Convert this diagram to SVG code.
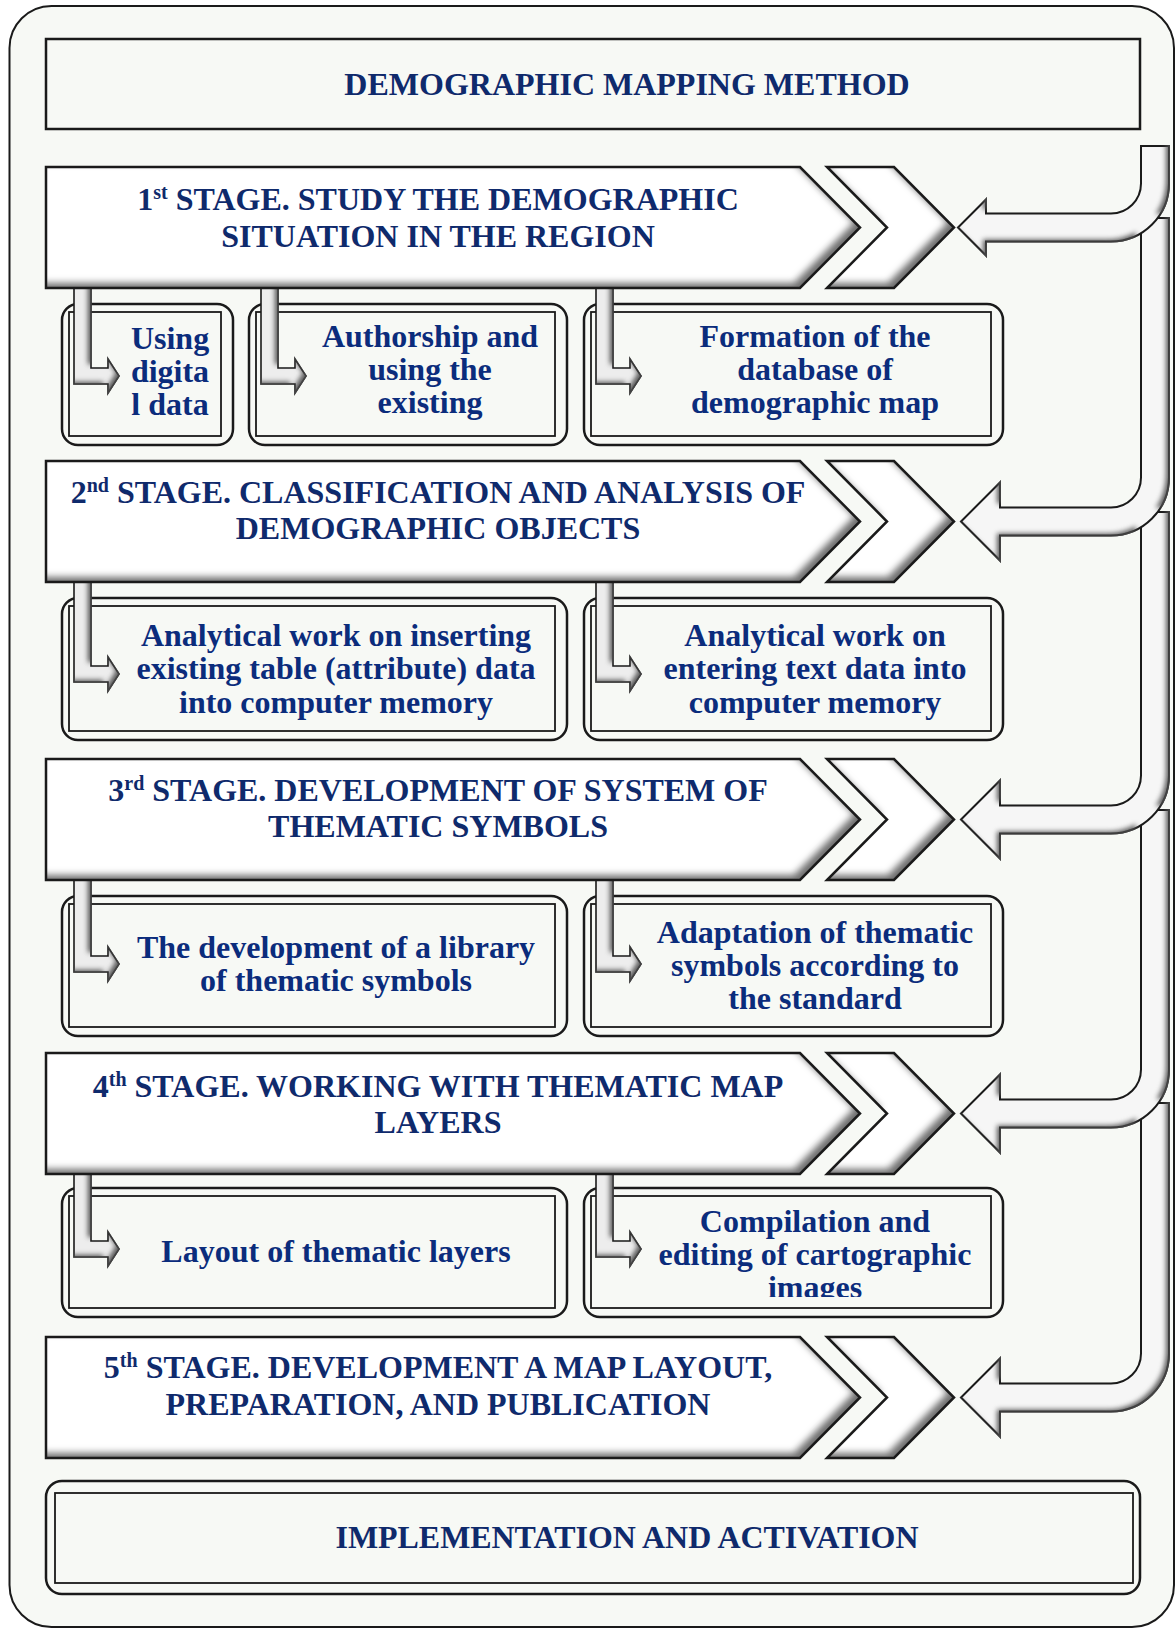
<svg xmlns="http://www.w3.org/2000/svg" width="1176" height="1629" viewBox="0 0 1176 1629">
<style>
.h{font-family:"Liberation Serif","Times New Roman",serif;font-weight:bold;font-size:32px;fill:#0f2a6c;text-anchor:middle}
.t{font-family:"Liberation Serif","Times New Roman",serif;font-weight:bold;font-size:32px;fill:#0b2c7c;text-anchor:middle}
.sup{font-size:20px}
.frame{fill:#f7f9f5;stroke:#1a1a1a;stroke-width:2}
.plain{fill:#f7f9f5;stroke:#1a1a1a;stroke-width:2.5}
.shape{fill:#ffffff}
.edge{fill:none;stroke:#1a1a1a;stroke-width:2.5;stroke-linejoin:miter}
.bo{fill:#f7f9f5;stroke:#1a1a1a;stroke-width:2.5}
.bi{fill:none;stroke:#1a1a1a;stroke-width:1.8}
.conn{fill:#ededed;stroke:#1a1a1a;stroke-width:1.6;stroke-linejoin:miter}
.ret{fill:#f6f6f6;stroke:#1a1a1a;stroke-width:2;stroke-linejoin:miter}
</style>
<defs>
<filter id="bev" x="-3%" y="-8%" width="106%" height="116%" color-interpolation-filters="sRGB">
<feGaussianBlur in="SourceAlpha" stdDeviation="3.5" result="b"/>
<feOffset in="b" dx="-6" dy="-5" result="o"/>
<feComposite in="SourceAlpha" in2="o" operator="out" result="e"/>
<feFlood flood-color="#555555" flood-opacity="0.85"/>
<feComposite in2="e" operator="in" result="s"/>
<feMerge><feMergeNode in="SourceGraphic"/><feMergeNode in="s"/></feMerge>
</filter>
<filter id="bev2" x="-10%" y="-10%" width="120%" height="120%" color-interpolation-filters="sRGB">
<feGaussianBlur in="SourceAlpha" stdDeviation="2.5" result="b"/>
<feOffset in="b" dx="-4" dy="-3" result="o"/>
<feComposite in="SourceAlpha" in2="o" operator="out" result="e"/>
<feFlood flood-color="#4a4a4a" flood-opacity="0.9"/>
<feComposite in2="e" operator="in" result="s"/>
<feMerge><feMergeNode in="SourceGraphic"/><feMergeNode in="s"/></feMerge>
</filter>
<clipPath id="clipImg"><rect x="584" y="1188" width="419" height="109"/></clipPath>
</defs>

<rect width="1176" height="1629" fill="#ffffff"/>
<rect class="frame" x="9.5" y="6" width="1164.5" height="1621" rx="42"/>

<g id="title">
<rect class="plain" x="46" y="39" width="1094" height="90"/>
<text class="h" x="627" y="95">DEMOGRAPHIC MAPPING METHOD</text>
</g>

<!-- sub-boxes -->
<g id="box-1a"><rect class="bo" x="62" y="304" width="171" height="141" rx="16"/><rect class="bi" x="69" y="312" width="152" height="124"/>
<text class="t" x="170" y="349">Using</text><text class="t" x="170" y="382">digita</text><text class="t" x="170" y="415">l data</text></g>
<g id="box-1b"><rect class="bo" x="249" y="304" width="318" height="141" rx="16"/><rect class="bi" x="256" y="312" width="299" height="124"/>
<text class="t" x="430" y="347">Authorship and</text><text class="t" x="430" y="380">using the</text><text class="t" x="430" y="413">existing</text></g>
<g id="box-1c"><rect class="bo" x="584" y="304" width="419" height="141" rx="16"/><rect class="bi" x="591" y="312" width="400" height="124"/>
<text class="t" x="815" y="347">Formation of the</text><text class="t" x="815" y="380">database of</text><text class="t" x="815" y="413">demographic map</text></g>

<g id="box-2a"><rect class="bo" x="62" y="598" width="505" height="142" rx="16"/><rect class="bi" x="69" y="606" width="486" height="125"/>
<text class="t" x="336" y="646">Analytical work on inserting</text><text class="t" x="336" y="679">existing table (attribute) data</text><text class="t" x="336" y="713">into computer memory</text></g>
<g id="box-2b"><rect class="bo" x="584" y="598" width="419" height="142" rx="16"/><rect class="bi" x="591" y="606" width="400" height="125"/>
<text class="t" x="815" y="646">Analytical work on</text><text class="t" x="815" y="679">entering text data into</text><text class="t" x="815" y="713">computer memory</text></g>

<g id="box-3a"><rect class="bo" x="62" y="896" width="505" height="140" rx="16"/><rect class="bi" x="69" y="904" width="486" height="123"/>
<text class="t" x="336" y="958">The development of a library</text><text class="t" x="336" y="991">of thematic symbols</text></g>
<g id="box-3b"><rect class="bo" x="584" y="896" width="419" height="140" rx="16"/><rect class="bi" x="591" y="904" width="400" height="123"/>
<text class="t" x="815" y="943">Adaptation of thematic</text><text class="t" x="815" y="976">symbols according to</text><text class="t" x="815" y="1009">the standard</text></g>

<g id="box-4a"><rect class="bo" x="62" y="1188" width="505" height="129" rx="16"/><rect class="bi" x="69" y="1196" width="486" height="112"/>
<text class="t" x="336" y="1262">Layout of thematic layers</text></g>
<g id="box-4b"><rect class="bo" x="584" y="1188" width="419" height="129" rx="16"/><rect class="bi" x="591" y="1196" width="400" height="112"/>
<text class="t" x="815" y="1232">Compilation and</text><text class="t" x="815" y="1265">editing of cartographic</text><text class="t" x="815" y="1298" clip-path="url(#clipImg)">images</text></g>

<g id="implementation">
<rect class="bo" x="46" y="1481" width="1094" height="113" rx="16"/>
<rect class="bi" x="55" y="1493" width="1078" height="90"/>
<text class="h" x="627" y="1548" textLength="583" lengthAdjust="spacingAndGlyphs">IMPLEMENTATION AND ACTIVATION</text>
</g>

<!-- connectors -->
<g id="connectors">
<g filter="url(#bev2)">
<path class="conn" d="M74,285 V384 H108 V393 L119,376 L108,359 V368 H91 V285 Z"/>
<path class="conn" d="M261,285 V384 H295 V393 L306,376 L295,359 V368 H278 V285 Z"/>
<path class="conn" d="M596,285 V384 H630 V393 L641,376 L630,359 V368 H613 V285 Z"/>
<path class="conn" d="M74,579 V682 H108 V691 L119,674 L108,657 V666 H91 V579 Z"/>
<path class="conn" d="M596,579 V682 H630 V691 L641,674 L630,657 V666 H613 V579 Z"/>
<path class="conn" d="M74,877 V972 H108 V981 L119,964 L108,947 V956 H91 V877 Z"/>
<path class="conn" d="M596,877 V972 H630 V981 L641,964 L630,947 V956 H613 V877 Z"/>
<path class="conn" d="M74,1171 V1257 H108 V1266 L119,1249 L108,1232 V1241 H91 V1171 Z"/>
<path class="conn" d="M596,1171 V1257 H630 V1266 L641,1249 L630,1232 V1241 H613 V1171 Z"/>
</g>
<g filter="url(#bev2)">
<path class="ret" d="M1141,1103 V1353.5 A30 30 0 0 1 1111,1383.5 H1000 V1358.5 L961,1397.5 L1000,1436.5 V1411.5 H1111 A58 58 0 0 0 1169,1353.5 V1103 Z"/>
<path class="ret" d="M1141,810 V1069.5 A30 30 0 0 1 1111,1099.5 H1000 V1074.5 L961,1113.5 L1000,1152.5 V1127.5 H1111 A58 58 0 0 0 1169,1069.5 V810 Z"/>
<path class="ret" d="M1141,512 V775.5 A30 30 0 0 1 1111,805.5 H1000 V780.5 L961,819.5 L1000,858.5 V833.5 H1111 A58 58 0 0 0 1169,775.5 V512 Z"/>
<path class="ret" d="M1141,218 V477.5 A30 30 0 0 1 1111,507.5 H1000 V482.5 L961,521.5 L1000,560.5 V535.5 H1111 A58 58 0 0 0 1169,477.5 V218 Z"/>
<path class="ret" d="M1141,146 V183.5 A30 30 0 0 1 1111,213.5 H986 V199.5 L958,227.5 L986,255.5 V241.5 H1111 A58 58 0 0 0 1169,183.5 V146 Z"/>
</g>
</g>

<!-- stages -->
<g id="stage1">
<g filter="url(#bev)"><polygon class="shape" points="46,167 800,167 860,227.5 800,288 46,288"/><polygon class="shape" points="827,167 894,167 954,227.5 894,288 827,288 887,227.5"/></g>
<polygon class="edge" points="46,167 800,167 860,227.5 800,288 46,288"/><polygon class="edge" points="827,167 894,167 954,227.5 894,288 827,288 887,227.5"/>
<text class="h" x="438" y="210">1<tspan class="sup" dy="-11">st</tspan><tspan dy="11"> STAGE. STUDY THE DEMOGRAPHIC</tspan></text>
<text class="h" x="438" y="247">SITUATION IN THE REGION</text>
</g>
<g id="stage2">
<g filter="url(#bev)"><polygon class="shape" points="46,461 800,461 860,521.5 800,582 46,582"/><polygon class="shape" points="827,461 894,461 954,521.5 894,582 827,582 887,521.5"/></g>
<polygon class="edge" points="46,461 800,461 860,521.5 800,582 46,582"/><polygon class="edge" points="827,461 894,461 954,521.5 894,582 827,582 887,521.5"/>
<text class="h" x="438" y="503">2<tspan class="sup" dy="-11">nd</tspan><tspan dy="11"> STAGE. CLASSIFICATION AND ANALYSIS OF</tspan></text>
<text class="h" x="438" y="539">DEMOGRAPHIC OBJECTS</text>
</g>
<g id="stage3">
<g filter="url(#bev)"><polygon class="shape" points="46,759 800,759 860,819.5 800,880 46,880"/><polygon class="shape" points="827,759 894,759 954,819.5 894,880 827,880 887,819.5"/></g>
<polygon class="edge" points="46,759 800,759 860,819.5 800,880 46,880"/><polygon class="edge" points="827,759 894,759 954,819.5 894,880 827,880 887,819.5"/>
<text class="h" x="438" y="801">3<tspan class="sup" dy="-11">rd</tspan><tspan dy="11"> STAGE. DEVELOPMENT OF SYSTEM OF</tspan></text>
<text class="h" x="438" y="837">THEMATIC SYMBOLS</text>
</g>
<g id="stage4">
<g filter="url(#bev)"><polygon class="shape" points="46,1053 800,1053 860,1113.5 800,1174 46,1174"/><polygon class="shape" points="827,1053 894,1053 954,1113.5 894,1174 827,1174 887,1113.5"/></g>
<polygon class="edge" points="46,1053 800,1053 860,1113.5 800,1174 46,1174"/><polygon class="edge" points="827,1053 894,1053 954,1113.5 894,1174 827,1174 887,1113.5"/>
<text class="h" x="438" y="1097">4<tspan class="sup" dy="-11">th</tspan><tspan dy="11"> STAGE. WORKING WITH THEMATIC MAP</tspan></text>
<text class="h" x="438" y="1133">LAYERS</text>
</g>
<g id="stage5">
<g filter="url(#bev)"><polygon class="shape" points="46,1337 800,1337 860,1397.5 800,1458 46,1458"/><polygon class="shape" points="827,1337 894,1337 954,1397.5 894,1458 827,1458 887,1397.5"/></g>
<polygon class="edge" points="46,1337 800,1337 860,1397.5 800,1458 46,1458"/><polygon class="edge" points="827,1337 894,1337 954,1397.5 894,1458 827,1458 887,1397.5"/>
<text class="h" x="438" y="1378">5<tspan class="sup" dy="-11">th</tspan><tspan dy="11"> STAGE. DEVELOPMENT A MAP LAYOUT,</tspan></text>
<text class="h" x="438" y="1415">PREPARATION, AND PUBLICATION</text>
</g>
</svg>
